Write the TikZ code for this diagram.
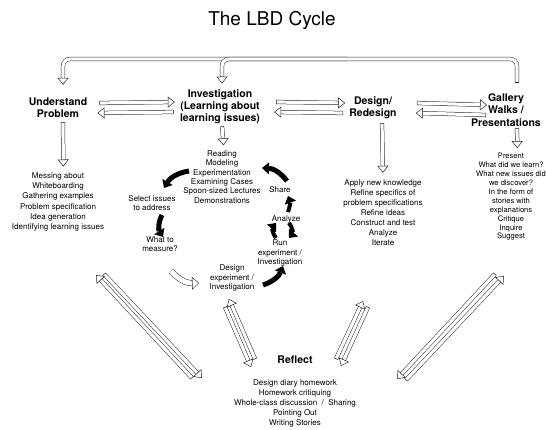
\documentclass[tikz,border=0pt]{standalone}
\usepackage{fontspec}
\setmainfont{TeX Gyre Heros}
\usetikzlibrary{arrows.meta}

\tikzset{
  head/.style={font=\bfseries\fontsize{10.5}{12.2}\selectfont, align=center, inner sep=2pt},
  list/.style={font=\fontsize{8}{#1}\selectfont, align=center, inner sep=1pt},
  list/.default=10,
  hollow/.style={draw=black!85, line width=.5pt, double=white, double distance=3.2pt,
    arrows={-Triangle[open, length=7pt, width=11pt, line width=.5pt]}},
  shut/.style={arrows={Bar[width=4.2pt, line width=.5pt]-Triangle[open, length=7pt, width=11pt, line width=.5pt]}},
  cyc/.style={line width=5pt, arrows={-Triangle[length=7pt, width=12pt, line width=0pt]}},
}

\begin{document}
\begin{tikzpicture}[x=1pt, y=-1pt]
\useasboundingbox (0,0) rectangle (546,430);

\node[font=\fontsize{19}{22}\selectfont] (ttl) at (272,20) {The LBD Cycle};

% the four steps and reflect
\node[head] (un) at (58,108) {Understand\\Problem};
\node[head] (inv) at (220,107) {Investigation\\(Learning about\\learning issues)};
\node[head] (ds) at (373,108) {Design/\\Redesign};
\node[head] (gw) at (506,110) {Gallery\\Walks /\\Presentations};
\node[head] (rf) at (295,360) {Reflect};

% lists under the steps
\node[list=10.2] (ulist) at (58,202) {Messing about\\Whiteboarding\\Gathering examples\\Problem specification\\Idea generation\\Identifying learning issues};
\node[list=9.4] (ilist) at (222,177) {Reading\\Modeling\\Experimentation\\Examining Cases\\Spoon-sized Lectures\\Demonstrations};
\node[list] (dlist) at (383,213) {Apply new knowledge\\Refine specifics of\\problem specifications\\Refine ideas\\Construct and test\\Analyze\\Iterate};
\node[list=8.9, font=\fontsize{7.6}{8.9}\selectfont] (glist) at (511,197) {Present\\What did we learn?\\What new issues did\\we discover?\\In the form of\\stories with\\explanations\\Critique\\Inquire\\Suggest};
\node[list] (rlist) at (295,403) {Design diary homework\\Homework critiquing\\Whole-class discussion~~/~~Sharing\\Pointing Out\\Writing Stories};

% investigation cycle
\node[list=9.6] (sel) at (152,203) {Select issues\\to address};
\node[list=9.6] (meas) at (160,244) {What to\\measure?};
\node[list=9.6] (dexp) at (232,278) {Design\\experiment /\\Investigation};
\node[list] (share) at (280,190) {Share};
\node[list] (anlz) at (286,219) {Analyze};
\node[list=9.4] (run) at (280,253) {Run\\experiment /\\Investigation};

% top bracket
\coordinate (bar) at (63,59);
\draw[hollow, shut, rounded corners=7pt] ([xshift=11pt,yshift=9pt]gw.north) |- (bar) -- ([xshift=5pt,yshift=11pt]un.north);
\draw[hollow, rounded corners=7pt] (bar -| ds.west) -| ([xshift=2pt,yshift=4pt]inv.north);

% arrows between the steps
\draw[hollow, shut] ([xshift=10pt,yshift=5pt]un.east) -- ([xshift=-3pt,yshift=5pt]inv.west);
\draw[hollow, shut] ([xshift=-4pt,yshift=-5pt]inv.west) -- ([xshift=8pt,yshift=-5pt]un.east);
\draw[hollow, shut] ([xshift=14pt,yshift=5pt]inv.east) -- ([xshift=-2pt,yshift=5pt]ds.west);
\draw[hollow, shut] ([xshift=-4pt,yshift=-5pt]ds.west) -- ([xshift=12pt,yshift=-5pt]inv.east);
\draw[hollow, shut] ([xshift=18pt,yshift=5pt]ds.east) -- ([xshift=18pt,yshift=5pt]gw.west);
\draw[hollow, shut] ([xshift=17pt,yshift=-5pt]gw.west) -- ([xshift=17pt,yshift=-5pt]ds.east);

% down to the lists
\draw[hollow, shut] ([xshift=5pt,yshift=-2pt]un.south) -- ([xshift=5.3pt,yshift=5pt]ulist.north);
\draw[hollow, shut] ([xshift=2pt]inv.south) -- ([xshift=1.7pt,yshift=4pt]ilist.north);
\draw[hollow, shut] ([xshift=9pt,yshift=-2pt]ds.south) -- ([yshift=6pt]dlist.north);
\draw[hollow, shut] ([xshift=11pt]gw.south) -- ([xshift=6.3pt,yshift=4pt]glist.north);

% cycle arrows
\coordinate (c1) at (189,171); \coordinate (c2) at (164,188);
\coordinate (c3) at (162,215); \coordinate (c4) at (163,237);
\coordinate (c5) at (171,271); \coordinate (c6) at (199,283);
\coordinate (c7) at (263,285); \coordinate (c8) at (283,266);
\coordinate (c9) at (276,238); \coordinate (c10) at (276,223);
\coordinate (c11) at (289,223); \coordinate (c12) at (289,238);
\coordinate (c13) at (288,212); \coordinate (c14) at (288,196);
\coordinate (c15) at (287,181); \coordinate (c16) at (262,168);
\draw[cyc] (c1) to[bend right=25] (c2);
\draw[cyc] (c3) to[bend right=30] (c4);
\draw[hollow, double distance=5pt, arrows={-Triangle[open, length=7pt, width=13pt, line width=.5pt]}] (c5) to[bend right=25] (c6);
\draw[cyc] (c7) to[bend right=25] (c8);
\draw[cyc, line width=4pt] (c9) to[bend left=40] (c10);
\draw[cyc, line width=4pt] (c11) to[bend left=40] (c12);
\draw[cyc, line width=4pt] (c13) to[bend right=20] (c14);
\draw[cyc] (c15) to[bend right=25] (c16);

% to and from reflect
\coordinate (l1) at (104,274); \coordinate (l2) at (202,378);
\coordinate (l3) at (192,378); \coordinate (l4) at (96,275);
\coordinate (m1) at (225,307); \coordinate (m2) at (251,367);
\coordinate (m3) at (255,359); \coordinate (m4) at (229,299);
\coordinate (n1) at (336,359); \coordinate (n2) at (363,301);
\coordinate (n3) at (368,307); \coordinate (n4) at (341,366);
\coordinate (r1) at (495,274); \coordinate (r2) at (397,379);
\coordinate (r3) at (406,380); \coordinate (r4) at (504,276);
\draw[hollow, shut] (l1) -- (l2);
\draw[hollow, shut] (l3) -- (l4);
\draw[hollow, shut] (m1) -- (m2);
\draw[hollow, shut] (m3) -- (m4);
\draw[hollow, shut] (n1) -- (n2);
\draw[hollow, shut] (n3) -- (n4);
\draw[hollow, shut] (r1) -- (r2);
\draw[hollow, shut] (r3) -- (r4);
\end{tikzpicture}
\end{document}
